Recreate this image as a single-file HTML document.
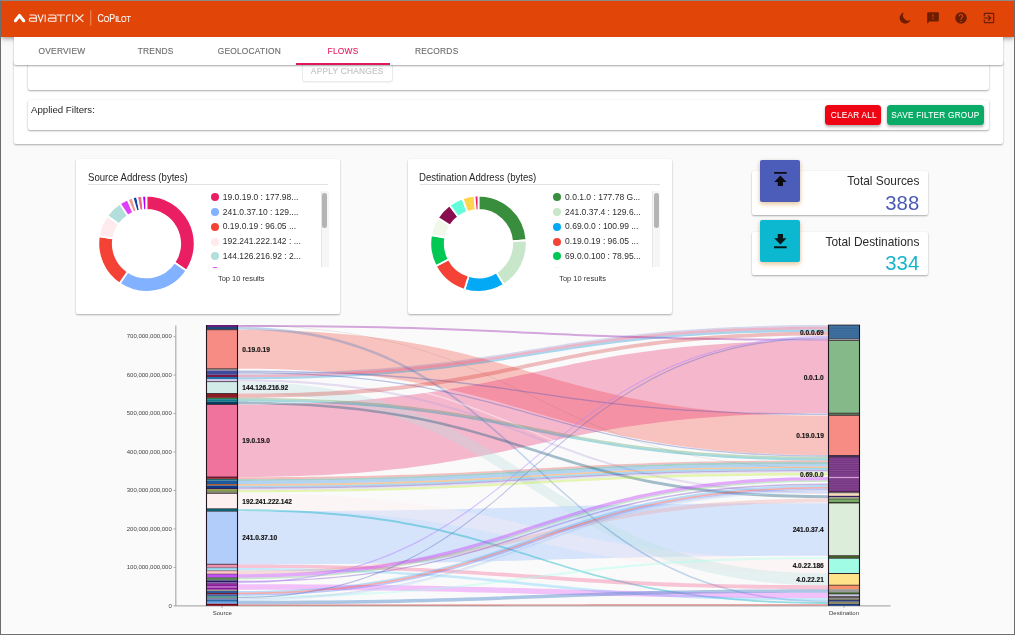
<!DOCTYPE html>
<html><head><meta charset="utf-8"><title>CoPilot</title>
<style>
*{box-sizing:border-box;margin:0;padding:0}
html,body{width:1015px;height:635px;overflow:hidden;background:#fafafa;font-family:"Liberation Sans",sans-serif;}
#root{position:absolute;left:0;top:0;width:1015px;height:635px;will-change:transform}
#frame{position:absolute;left:0;top:0;width:1015px;height:635px;border:1px solid #6e6e6e;border-top-color:#8a8a8a;pointer-events:none;z-index:50}
#frame:after{content:"";position:absolute;left:0;right:0;bottom:0;height:1px;background:#fff}
#hdr{position:absolute;left:1px;top:1px;width:1013px;height:36px;background:#e24508;z-index:3;box-shadow:0 2px 4px -1px rgba(0,0,0,.3),0 3px 5px rgba(0,0,0,.14)}
#tabs{position:absolute;left:14px;top:37px;width:988.8px;height:28px;background:#fff;border-radius:0 0 2px 2px;box-shadow:0 1px 2px rgba(0,0,0,.35);z-index:4}
.tab{-webkit-text-stroke:.14px;position:absolute;top:0;height:28px;width:93.7px;text-align:center;font-size:8.4px;line-height:28.5px;color:#6f6f6f;letter-spacing:.22px}
.tab.on{color:#e91e63}
#ink{position:absolute;left:282px;top:26.4px;width:93.7px;height:1.7px;background:#e0185c}
#panel{position:absolute;left:14px;top:60px;width:988.8px;height:84px;background:#fff;border-radius:2px;box-shadow:0 1px 2px rgba(0,0,0,.32);z-index:1}
.icard{position:absolute;left:14px;width:960.8px;background:#fff;border-radius:2px;box-shadow:0 1px 2px rgba(0,0,0,.32), 0 0 2px rgba(0,0,0,.08)}
#apply{-webkit-text-stroke:.12px;position:absolute;left:273.5px;top:0;width:91.5px;height:22px;border:1px solid #ebebeb;border-top:none;border-radius:0 0 3px 3px;box-shadow:0 1px 1px rgba(0,0,0,.05);color:#c3c3c3;font-size:8.4px;letter-spacing:.22px;text-align:center;line-height:23.2px}
.btn{-webkit-text-stroke:.07px;position:absolute;top:104.8px;height:20px;border-radius:3.5px;color:#fff;font-size:8.8px;letter-spacing:.3px;text-align:center;line-height:20.5px;white-space:nowrap;box-shadow:0 1.5px 3px rgba(0,0,0,.3);z-index:3}
.card{position:absolute;background:#fff;border-radius:2px;box-shadow:0 1px 2px rgba(0,0,0,.3),0 0 2px rgba(0,0,0,.06)}
.ctitle{position:absolute;left:11.7px;top:13.1px;font-size:10.1px;color:#262626;white-space:nowrap;transform:scaleX(.95);transform-origin:0 50%}
.cdiv{position:absolute;left:12px;right:12px;top:25.5px;height:1px;background:#e2e2e2}
.leg{position:absolute;left:134px;top:32px;width:119px;height:77.2px;overflow:hidden}
.li{position:absolute;left:0;height:14.7px;white-space:nowrap;font-size:8.5px;color:#2e2e2e;line-height:14.7px}
.dot{position:absolute;left:1.4px;top:3.3px;width:8px;height:8px;border-radius:50%}
.li span{position:absolute;left:13.2px;top:0}
.sb{position:absolute;right:0;top:0;width:8px;height:76px;background:#f6f6f6;border-left:1px solid #e6e6e6}
.sb i{position:absolute;left:0.9px;top:1.8px;width:4.6px;height:35.5px;border-radius:2.3px;background:#b4b4b4}
.top10{position:absolute;left:141.6px;top:115.3px;font-size:7.5px;color:#333}
.stat{position:absolute;left:751.6px;width:176.7px;height:43.4px;background:#fff;border-radius:2px;box-shadow:0 1px 2px rgba(0,0,0,.32),0 0 2px rgba(0,0,0,.06)}
.sbox svg{position:absolute;left:.2px;top:.3px}
.sbox{position:absolute;left:8.9px;top:-11.9px;width:39.1px;height:42.2px;border-radius:2px;box-shadow:0 3px 5px rgba(255,152,0,.25),0 1px 4px rgba(0,0,0,.18)}
.slab{position:absolute;right:8.9px;top:2.5px;font-size:11.9px;color:#2b2b2b;white-space:nowrap}
.sval{position:absolute;right:9.1px;top:20.3px;font-size:20.3px;white-space:nowrap}
.btn span{display:inline-block;transform:scaleX(.93);transform-origin:50% 50%}</style></head><body><div id="root">
<div id="hdr"><svg style="position:absolute;left:0;top:0" width="140" height="36" viewBox="1 1 140 36"><path d="M15.4,20.7L19.5,15.5L23.7,20.7" fill="none" stroke="#fff" stroke-width="3.1" stroke-linecap="round" stroke-linejoin="round"/><g fill="none" stroke="#fff" stroke-opacity=".92" stroke-width="1.08"><path d="M29.6,15H34.4Q36.4,15 36.4,17V21.3H30.9Q29.3,21.3 29.3,19.7Q29.3,18.1 30.9,18.1H36.4"/><path d="M37.9,14.5L40.6,21.4L43.3,14.5"/><path d="M45.2,14.4V21.9"/><path d="M48.6,15H53.9Q55.9,15 55.9,17V21.3H49.7Q48.1,21.3 48.1,19.7Q48.1,18.1 49.7,18.1H55.9"/><path d="M56.6,15H65M60.8,15V21.9"/><path d="M66.7,21.9V17Q66.7,15 68.8,15H70.9"/><path d="M72.7,14.4V21.9"/><path d="M75.3,14.5L83.4,21.9M83.4,14.5L75.3,21.9"/></g><path d="M90.8,10.2V25.6" stroke="#f39a73" stroke-width="0.9"/><text transform="translate(97.5,22) scale(.855,1)" fill="#fff" fill-opacity=".96" stroke="#fff" stroke-width=".2" stroke-opacity=".8" font-family="Liberation Sans, sans-serif" font-size="10.2"><tspan>C</tspan><tspan font-size="8.3">O</tspan><tspan>P</tspan><tspan font-size="8.3">ILOT</tspan></text></svg>
<svg style="position:absolute;left:897px;top:9.8px" width="14" height="14" viewBox="0 0 24 24"><path d="M10.06,2.61A9.7,9.7 0 1 0 21.58,15.41A8.9,8.9 0 0 1 10.06,2.61Z" fill="#6d1e00"/></svg>
<svg style="position:absolute;left:925px;top:9.8px" width="14" height="14" viewBox="0 0 24 24"><path d="M13,10H11V6H13M13,14H11V12H13M20,2H4A2,2 0 0,0 2,4V22L6,18H20A2,2 0 0,0 22,16V4C22,2.89 21.1,2 20,2Z" fill="#6d1e00"/></svg>
<svg style="position:absolute;left:953px;top:9.8px" width="14" height="14" viewBox="0 0 24 24"><path d="M15.07,11.25L14.17,12.17C13.45,12.89 13,13.5 13,15H11V14.5C11,13.39 11.45,12.39 12.17,11.67L13.41,10.41C13.78,10.05 14,9.55 14,9C14,7.89 13.1,7 12,7A2,2 0 0,0 10,9H8A4,4 0 0,1 12,5A4,4 0 0,1 16,9C16,9.88 15.64,10.67 15.07,11.25M13,19H11V17H13M12,2A10,10 0 0,0 2,12A10,10 0 0,0 12,22A10,10 0 0,0 22,12C22,6.47 17.5,2 12,2Z" fill="#6d1e00"/></svg>
<svg style="position:absolute;left:981.3px;top:9.8px" width="14" height="14" viewBox="0 0 24 24"><path d="M19,3H5C3.89,3 3,3.89 3,5V9H5V5H19V19H5V15H3V19A2,2 0 0,0 5,21H19A2,2 0 0,0 21,19V5C21,3.89 20.1,3 19,3M10.08,15.58L11.5,17L16.5,12L11.5,7L10.08,8.41L12.67,11H3V13H12.67L10.08,15.58Z" fill="#6d1e00"/></svg>
</div>
<div id="tabs">
<div class="tab" style="left:1.1px">OVERVIEW</div>
<div class="tab" style="left:94.8px">TRENDS</div>
<div class="tab" style="left:188.5px">GEOLOCATION</div>
<div class="tab on" style="left:282.2px">FLOWS</div>
<div class="tab" style="left:375.9px">RECORDS</div>
<div id="ink"></div>
</div>
<div id="panel">
<div class="icard" style="top:0;height:30.3px"><div id="apply">APPLY CHANGES</div></div>
<div class="icard" style="top:39.6px;height:30.5px"><div style="position:absolute;left:2.5px;top:4.5px;font-size:9.8px;color:#1f1f1f;transform:scaleX(.985);transform-origin:0 50%;white-space:nowrap">Applied Filters:</div></div>
</div>
<div class="btn" style="left:825.4px;width:55.9px;background:#ee0413"><span>CLEAR ALL</span></div>
<div class="btn" style="left:887px;width:97.2px;background:#0aab67"><span style="margin-left:-3px;margin-right:-3px">SAVE FILTER GROUP</span></div>

<div class="card" style="left:76.3px;top:158.9px;width:263.8px;height:155.2px">
<div class="ctitle">Source Address (bytes)</div><div class="cdiv"></div>
<svg style="position:absolute;left:0;top:0" width="150" height="155" viewBox="0 0 150 155"><path d="M70.50,36.55A48.15,48.15 0 0 1 110.42,111.63L98.44,103.54A33.7,33.7 0 0 0 70.50,51.00Z" fill="#e91e63" stroke="#fff" stroke-width="1.8" stroke-linejoin="miter"/><path d="M110.42,111.63A48.15,48.15 0 0 1 43.57,124.62L51.66,112.64A33.7,33.7 0 0 0 98.44,103.54Z" fill="#82b1ff" stroke="#fff" stroke-width="1.8" stroke-linejoin="miter"/><path d="M43.57,124.62A48.15,48.15 0 0 1 22.94,77.17L37.21,79.43A33.7,33.7 0 0 0 51.66,112.64Z" fill="#f44336" stroke="#fff" stroke-width="1.8" stroke-linejoin="miter"/><path d="M22.94,77.17A48.15,48.15 0 0 1 31.30,56.74L43.06,65.13A33.7,33.7 0 0 0 37.21,79.43Z" fill="#ffebee" stroke="#fff" stroke-width="1.8" stroke-linejoin="miter"/><path d="M31.30,56.74A48.15,48.15 0 0 1 43.85,44.59L51.85,56.63A33.7,33.7 0 0 0 43.06,65.13Z" fill="#b2dfdb" stroke="#fff" stroke-width="1.8" stroke-linejoin="miter"/><path d="M43.85,44.59A48.15,48.15 0 0 1 51.69,40.38L57.33,53.68A33.7,33.7 0 0 0 51.85,56.63Z" fill="#e040fb" stroke="#fff" stroke-width="1.8" stroke-linejoin="miter"/><path d="M51.69,40.38A48.15,48.15 0 0 1 56.58,38.61L60.76,52.44A33.7,33.7 0 0 0 57.33,53.68Z" fill="#ef9a9a" stroke="#fff" stroke-width="1.8" stroke-linejoin="miter"/><path d="M56.58,38.61A48.15,48.15 0 0 1 61.07,37.48L63.90,51.65A33.7,33.7 0 0 0 60.76,52.44Z" fill="#0d47a1" stroke="#fff" stroke-width="1.8" stroke-linejoin="miter"/><path d="M61.07,37.48A48.15,48.15 0 0 1 66.14,36.75L67.45,51.14A33.7,33.7 0 0 0 63.90,51.65Z" fill="#f06292" stroke="#fff" stroke-width="1.8" stroke-linejoin="miter"/><path d="M66.14,36.75A48.15,48.15 0 0 1 70.16,36.55L70.26,51.00A33.7,33.7 0 0 0 67.45,51.14Z" fill="#aa00ff" stroke="#fff" stroke-width="1.8" stroke-linejoin="miter"/></svg><div class="leg" style="left:133.3px;width:119px"><div class="li" style="top:-0.90px"><i class="dot" style="background:#e91e63"></i><span>19.0.19.0 : 177.98...</span></div><div class="li" style="top:13.84px"><i class="dot" style="background:#82b1ff"></i><span>241.0.37.10 : 129....</span></div><div class="li" style="top:28.58px"><i class="dot" style="background:#f44336"></i><span>0.19.0.19 : 96.05 ...</span></div><div class="li" style="top:43.32px"><i class="dot" style="background:#ffebee"></i><span>192.241.222.142 : ...</span></div><div class="li" style="top:58.06px"><i class="dot" style="background:#b2dfdb"></i><span>144.126.216.92 : 2...</span></div><div class="li" style="top:72.80px"><i class="dot" style="background:#e040fb"></i></div><div class="sb"><i></i></div></div>
<div class="top10">Top 10 results</div>
</div>
<div class="card" style="left:407.8px;top:158.9px;width:264.3px;height:155.2px">
<div class="ctitle">Destination Address (bytes)</div><div class="cdiv"></div>
<svg style="position:absolute;left:0;top:0" width="150" height="155" viewBox="0 0 150 155"><path d="M70.50,36.55A48.15,48.15 0 0 1 118.53,81.26L104.11,82.29A33.7,33.7 0 0 0 70.50,51.00Z" fill="#388e3c" stroke="#fff" stroke-width="1.8" stroke-linejoin="miter"/><path d="M118.53,81.26A48.15,48.15 0 0 1 95.80,125.67L88.21,113.37A33.7,33.7 0 0 0 104.11,82.29Z" fill="#c8e6c9" stroke="#fff" stroke-width="1.8" stroke-linejoin="miter"/><path d="M95.80,125.67A48.15,48.15 0 0 1 56.42,130.75L60.65,116.93A33.7,33.7 0 0 0 88.21,113.37Z" fill="#03a9f4" stroke="#fff" stroke-width="1.8" stroke-linejoin="miter"/><path d="M56.42,130.75A48.15,48.15 0 0 1 27.79,106.93L40.61,100.26A33.7,33.7 0 0 0 60.65,116.93Z" fill="#f44336" stroke="#fff" stroke-width="1.8" stroke-linejoin="miter"/><path d="M27.79,106.93A48.15,48.15 0 0 1 23.13,76.09L37.34,78.67A33.7,33.7 0 0 0 40.61,100.26Z" fill="#00c853" stroke="#fff" stroke-width="1.8" stroke-linejoin="miter"/><path d="M23.13,76.09A48.15,48.15 0 0 1 29.94,58.76L42.11,66.54A33.7,33.7 0 0 0 37.34,78.67Z" fill="#f1f8e9" stroke="#fff" stroke-width="1.8" stroke-linejoin="miter"/><path d="M29.94,58.76A48.15,48.15 0 0 1 41.52,46.25L50.22,57.79A33.7,33.7 0 0 0 42.11,66.54Z" fill="#880e4f" stroke="#fff" stroke-width="1.8" stroke-linejoin="miter"/><path d="M41.52,46.25A48.15,48.15 0 0 1 54.51,39.28L59.31,52.91A33.7,33.7 0 0 0 50.22,57.79Z" fill="#64ffda" stroke="#fff" stroke-width="1.8" stroke-linejoin="miter"/><path d="M54.51,39.28A48.15,48.15 0 0 1 66.55,36.71L67.74,51.11A33.7,33.7 0 0 0 59.31,52.91Z" fill="#ffd54f" stroke="#fff" stroke-width="1.8" stroke-linejoin="miter"/><path d="M66.55,36.71A48.15,48.15 0 0 1 70.42,36.55L70.44,51.00A33.7,33.7 0 0 0 67.74,51.11Z" fill="#e91e63" stroke="#fff" stroke-width="1.8" stroke-linejoin="miter"/></svg><div class="leg" style="left:144.10000000000002px;width:108.2px"><div class="li" style="top:-0.90px"><i class="dot" style="background:#388e3c"></i><span>0.0.1.0 : 177.78 G...</span></div><div class="li" style="top:13.84px"><i class="dot" style="background:#c8e6c9"></i><span>241.0.37.4 : 129.6...</span></div><div class="li" style="top:28.58px"><i class="dot" style="background:#03a9f4"></i><span>0.69.0.0 : 100.99 ...</span></div><div class="li" style="top:43.32px"><i class="dot" style="background:#f44336"></i><span>0.19.0.19 : 96.05 ...</span></div><div class="li" style="top:58.06px"><i class="dot" style="background:#00c853"></i><span>69.0.0.100 : 78.95...</span></div><div class="li" style="top:72.80px"><i class="dot" style="background:#f1f8e9"></i></div><div class="sb"><i></i></div></div>
<div class="top10" style="left:151.4px">Top 10 results</div>
</div>

<div class="stat" style="top:171.4px">
<div class="sbox" style="background:#4c5db9"><svg width="38.7" height="41.4" viewBox="0 0 38.7 41.4"><path d="M13.1,11.9h12.6v1.9h-12.6z M19.4,15.6l6.2,6.3h-3.6v4.2h-5.2v-4.2h-3.6z" fill="#0b0b14"/></svg></div>
<div class="slab">Total Sources</div><div class="sval" style="color:#4a5bb6">388</div></div>
<div class="stat" style="top:232.1px">
<div class="sbox" style="background:#0cb8cf"><svg width="38.7" height="41.4" viewBox="0 0 38.7 41.4"><path d="M13.1,25.3h12.6v1.9h-12.6z M19.4,23.6l6.2,-6.3h-3.6v-4.4h-5.2v4.4h-3.6z" fill="#07181b"/></svg></div>
<div class="slab">Total Destinations</div><div class="sval" style="color:#16b4ca">334</div></div>

<svg style="position:absolute;left:0;top:0" width="1015" height="635" viewBox="0 0 1015 635" font-family="Liberation Sans, sans-serif"><path d="M175.8,325.5V606.2M175.3,605.9H890.5" stroke="#b0b0b0" stroke-width="1.25" fill="none"/><path d="M173.5,605.80H175.8" stroke="#999" stroke-width="0.8"/><text x="171.8" y="607.60" font-size="6" fill="#444" text-anchor="end">0</text><path d="M173.5,567.35H175.8" stroke="#999" stroke-width="0.8"/><text x="171.8" y="569.15" font-size="6" fill="#444" text-anchor="end">100,000,000,000</text><path d="M173.5,528.90H175.8" stroke="#999" stroke-width="0.8"/><text x="171.8" y="530.70" font-size="6" fill="#444" text-anchor="end">200,000,000,000</text><path d="M173.5,490.45H175.8" stroke="#999" stroke-width="0.8"/><text x="171.8" y="492.25" font-size="6" fill="#444" text-anchor="end">300,000,000,000</text><path d="M173.5,452.00H175.8" stroke="#999" stroke-width="0.8"/><text x="171.8" y="453.80" font-size="6" fill="#444" text-anchor="end">400,000,000,000</text><path d="M173.5,413.55H175.8" stroke="#999" stroke-width="0.8"/><text x="171.8" y="415.35" font-size="6" fill="#444" text-anchor="end">500,000,000,000</text><path d="M173.5,375.10H175.8" stroke="#999" stroke-width="0.8"/><text x="171.8" y="376.90" font-size="6" fill="#444" text-anchor="end">600,000,000,000</text><path d="M173.5,336.65H175.8" stroke="#999" stroke-width="0.8"/><text x="171.8" y="338.45" font-size="6" fill="#444" text-anchor="end">700,000,000,000</text><path d="M222,606V608M844,606V608" stroke="#999" stroke-width="0.8"/><text x="222.3" y="615.2" font-size="6" fill="#3c3c3c" text-anchor="middle">Source</text><text x="844" y="615.2" font-size="6" fill="#3c3c3c" text-anchor="middle">Destination</text><g stroke="none"><path d="M238.0,329.70C533.0,329.70 533.0,415.60 828.0,415.60V455.30C533.0,455.30 533.0,368.80 238.0,368.80Z" fill="#f44336" fill-opacity="0.3"/><path d="M238.0,404.50C533.0,404.50 533.0,340.60 828.0,340.60V413.20C533.0,413.20 533.0,477.10 238.0,477.10Z" fill="#e91e63" fill-opacity="0.3"/><path d="M238.0,511.20C533.0,511.20 533.0,503.20 828.0,503.20V555.80C533.0,555.80 533.0,564.40 238.0,564.40Z" fill="#82b1ff" fill-opacity="0.3"/><path d="M238.0,493.30C533.0,493.30 533.0,559.00 828.0,559.00V573.40C533.0,573.40 533.0,509.20 238.0,509.20Z" fill="#ffebee" fill-opacity="0.32"/><path d="M238.0,381.60C533.0,381.60 533.0,573.40 828.0,573.40V585.30C533.0,585.30 533.0,393.50 238.0,393.50Z" fill="#b2dfdb" fill-opacity="0.3"/><path d="M238.0,325.00C533.0,325.00 533.0,338.70 828.0,338.70V340.80C533.0,340.80 533.0,327.10 238.0,327.10Z" fill="#9c27b0" fill-opacity="0.4"/><path d="M238.0,327.00C533.0,327.00 533.0,600.60 828.0,600.60V602.20C533.0,602.20 533.0,329.60 238.0,329.60Z" fill="#1565c0" fill-opacity="0.25"/><path d="M238.0,369.00C533.0,369.00 533.0,493.80 828.0,493.80V495.20C533.0,495.20 533.0,370.40 238.0,370.40Z" fill="#ffffff" fill-opacity="0.42"/><path d="M238.0,373.30C533.0,373.30 533.0,325.10 828.0,325.10V326.70C533.0,326.70 533.0,374.80 238.0,374.80Z" fill="#3f51b5" fill-opacity="0.2"/><path d="M238.0,370.50C533.0,370.50 533.0,413.60 828.0,413.60V415.00C533.0,415.00 533.0,371.90 238.0,371.90Z" fill="#3f51b5" fill-opacity="0.34"/><path d="M238.0,371.90C533.0,371.90 533.0,455.30 828.0,455.30V456.70C533.0,456.70 533.0,373.30 238.0,373.30Z" fill="#3f51b5" fill-opacity="0.34"/><path d="M238.0,325.00C533.0,325.00 533.0,467.80 828.0,467.80V468.40C533.0,468.40 533.0,325.60 238.0,325.60Z" fill="#555555" fill-opacity="0.14"/><path d="M238.0,374.80C533.0,374.80 533.0,326.70 828.0,326.70V329.50C533.0,329.50 533.0,377.20 238.0,377.20Z" fill="#c2185b" fill-opacity="0.3"/><path d="M238.0,377.20C533.0,377.20 533.0,329.50 828.0,329.50V331.80C533.0,331.80 533.0,379.30 238.0,379.30Z" fill="#0288d1" fill-opacity="0.33"/><path d="M238.0,379.30C533.0,379.30 533.0,491.60 828.0,491.60V493.80C533.0,493.80 533.0,381.50 238.0,381.50Z" fill="#b39ddb" fill-opacity="0.3"/><path d="M238.0,393.60C533.0,393.60 533.0,331.80 828.0,331.80V335.60C533.0,335.60 533.0,397.70 238.0,397.70Z" fill="#d32f2f" fill-opacity="0.3"/><path d="M238.0,397.70C533.0,397.70 533.0,456.80 828.0,456.80V458.30C533.0,458.30 533.0,399.20 238.0,399.20Z" fill="#388e3c" fill-opacity="0.3"/><path d="M238.0,399.20C533.0,399.20 533.0,458.30 828.0,458.30V460.50C533.0,460.50 533.0,401.60 238.0,401.60Z" fill="#0097a7" fill-opacity="0.35"/><path d="M238.0,401.60C533.0,401.60 533.0,495.20 828.0,495.20V498.20C533.0,498.20 533.0,404.30 238.0,404.30Z" fill="#14567a" fill-opacity="0.38"/><path d="M238.0,477.20C533.0,477.20 533.0,460.40 828.0,460.40V461.90C533.0,461.90 533.0,479.30 238.0,479.30Z" fill="#e53935" fill-opacity="0.3"/><path d="M238.0,479.30C533.0,479.30 533.0,461.90 828.0,461.90V463.90C533.0,463.90 533.0,480.90 238.0,480.90Z" fill="#00796b" fill-opacity="0.33"/><path d="M238.0,480.90C533.0,480.90 533.0,463.90 828.0,463.90V466.50C533.0,466.50 533.0,483.90 238.0,483.90Z" fill="#1e88e5" fill-opacity="0.33"/><path d="M238.0,483.90C533.0,483.90 533.0,466.50 828.0,466.50V468.00C533.0,468.00 533.0,485.80 238.0,485.80Z" fill="#ef6c00" fill-opacity="0.35"/><path d="M238.0,485.80C533.0,485.80 533.0,468.00 828.0,468.00V470.00C533.0,470.00 533.0,487.20 238.0,487.20Z" fill="#039be5" fill-opacity="0.33"/><path d="M238.0,487.20C533.0,487.20 533.0,470.00 828.0,470.00V471.20C533.0,471.20 533.0,488.70 238.0,488.70Z" fill="#5e35b1" fill-opacity="0.38"/><path d="M238.0,488.70C533.0,488.70 533.0,471.20 828.0,471.20V472.60C533.0,472.60 533.0,490.20 238.0,490.20Z" fill="#b39ddb" fill-opacity="0.25"/><path d="M238.0,490.20C533.0,490.20 533.0,472.80 828.0,472.80V475.40C533.0,475.40 533.0,492.30 238.0,492.30Z" fill="#aeea00" fill-opacity="0.3"/><path d="M238.0,509.30C533.0,509.30 533.0,602.10 828.0,602.10V603.90C533.0,603.90 533.0,511.10 238.0,511.10Z" fill="#00acc1" fill-opacity="0.4"/><path d="M238.0,564.40C533.0,564.40 533.0,585.30 828.0,585.30V589.20C533.0,589.20 533.0,568.00 238.0,568.00Z" fill="#f06292" fill-opacity="0.36"/><path d="M238.0,568.00C533.0,568.00 533.0,598.10 828.0,598.10V600.80C533.0,600.80 533.0,570.60 238.0,570.60Z" fill="#4fc3f7" fill-opacity="0.3"/><path d="M238.0,570.60C533.0,570.60 533.0,498.40 828.0,498.40V502.40C533.0,502.40 533.0,574.20 238.0,574.20Z" fill="#ef9a9a" fill-opacity="0.32"/><path d="M238.0,574.20C533.0,574.20 533.0,476.90 828.0,476.90V480.30C533.0,480.30 533.0,577.70 238.0,577.70Z" fill="#c040fb" fill-opacity="0.42"/><path d="M238.0,577.70C533.0,577.70 533.0,480.30 828.0,480.30V481.80C533.0,481.80 533.0,579.20 238.0,579.20Z" fill="#66bb6a" fill-opacity="0.33"/><path d="M238.0,580.80C533.0,580.80 533.0,483.40 828.0,483.40V484.90C533.0,484.90 533.0,582.00 238.0,582.00Z" fill="#7e57c2" fill-opacity="0.42"/><path d="M238.0,581.80C533.0,581.80 533.0,336.10 828.0,336.10V337.50C533.0,337.50 533.0,583.20 238.0,583.20Z" fill="#b388ff" fill-opacity="0.5"/><path d="M238.0,584.20C533.0,584.20 533.0,592.80 828.0,592.80V598.10C533.0,598.10 533.0,589.70 238.0,589.70Z" fill="#e040fb" fill-opacity="0.3"/><path d="M238.0,591.00C533.0,591.00 533.0,485.00 828.0,485.00V487.00C533.0,487.00 533.0,592.50 238.0,592.50Z" fill="#64b5f6" fill-opacity="0.45"/><path d="M238.0,592.50C533.0,592.50 533.0,487.00 828.0,487.00V488.60C533.0,488.60 533.0,594.30 238.0,594.30Z" fill="#e53935" fill-opacity="0.4"/><path d="M238.0,594.30C533.0,594.30 533.0,488.60 828.0,488.60V490.00C533.0,490.00 533.0,595.70 238.0,595.70Z" fill="#5c7cfa" fill-opacity="0.4"/><path d="M238.0,595.70C533.0,595.70 533.0,556.90 828.0,556.90V559.10C533.0,559.10 533.0,597.70 238.0,597.70Z" fill="#a7ffeb" fill-opacity="0.4"/><path d="M238.0,596.90C533.0,596.90 533.0,337.50 828.0,337.50V338.70C533.0,338.70 533.0,598.10 238.0,598.10Z" fill="#5c6bc0" fill-opacity="0.42"/><path d="M238.0,598.20C533.0,598.20 533.0,490.00 828.0,490.00V491.20C533.0,491.20 533.0,599.20 238.0,599.20Z" fill="#9fa8da" fill-opacity="0.35"/><path d="M238.0,599.20C533.0,599.20 533.0,491.20 828.0,491.20V492.40C533.0,492.40 533.0,600.80 238.0,600.80Z" fill="#bbdefb" fill-opacity="0.45"/><path d="M238.0,600.80C533.0,600.80 533.0,589.20 828.0,589.20V592.80C533.0,592.80 533.0,604.30 238.0,604.30Z" fill="#5c8fd0" fill-opacity="0.5"/><path d="M238.0,604.30C533.0,604.30 533.0,603.90 828.0,603.90V605.60C533.0,605.60 533.0,605.70 238.0,605.70Z" fill="#d32f2f" fill-opacity="0.42"/></g><rect x="206.0" y="325.00" width="32.0" height="2.00" fill="#6a1b7a"/><rect x="206.0" y="327.00" width="32.0" height="2.70" fill="#1a4a7a"/><rect x="206.0" y="329.70" width="32.0" height="39.10" fill="#f78c84"/><rect x="206.0" y="368.80" width="32.0" height="1.70" fill="#9e9e9e"/><rect x="206.0" y="370.50" width="32.0" height="4.30" fill="#3f4a9a"/><rect x="206.0" y="374.80" width="32.0" height="2.20" fill="#7a1a4a"/><rect x="206.0" y="377.00" width="32.0" height="2.40" fill="#1e70a8"/><rect x="206.0" y="379.40" width="32.0" height="2.20" fill="#d8c8f0"/><rect x="206.0" y="381.60" width="32.0" height="11.90" fill="#d3ebe8"/><rect x="206.0" y="393.50" width="32.0" height="4.40" fill="#8a1c24"/><rect x="206.0" y="397.90" width="32.0" height="1.30" fill="#2a7a4a"/><rect x="206.0" y="399.20" width="32.0" height="2.50" fill="#0a7a8a"/><rect x="206.0" y="401.70" width="32.0" height="2.80" fill="#0c3a5e"/><rect x="206.0" y="404.50" width="32.0" height="72.50" fill="#f0739e"/><rect x="206.0" y="477.00" width="32.0" height="1.90" fill="#a02030"/><rect x="206.0" y="478.90" width="32.0" height="1.70" fill="#1a6a6a"/><rect x="206.0" y="480.60" width="32.0" height="3.40" fill="#1a5aa0"/><rect x="206.0" y="484.00" width="32.0" height="1.60" fill="#b05a30"/><rect x="206.0" y="485.60" width="32.0" height="2.40" fill="#0a3a8a"/><rect x="206.0" y="488.00" width="32.0" height="1.30" fill="#3a1a5a"/><rect x="206.0" y="489.30" width="32.0" height="1.60" fill="#7a9a30"/><rect x="206.0" y="490.90" width="32.0" height="2.50" fill="#8a8a70"/><rect x="206.0" y="493.40" width="32.0" height="15.40" fill="#fdeff0"/><rect x="206.0" y="508.80" width="32.0" height="2.40" fill="#0a7a8a"/><rect x="206.0" y="511.20" width="32.0" height="53.10" fill="#b3cdfb"/><rect x="206.0" y="564.30" width="32.0" height="3.40" fill="#f48fb1"/><rect x="206.0" y="567.70" width="32.0" height="3.00" fill="#9adcf0"/><rect x="206.0" y="570.70" width="32.0" height="3.40" fill="#fbc4c4"/><rect x="206.0" y="574.10" width="32.0" height="3.60" fill="#c050f8"/><rect x="206.0" y="577.70" width="32.0" height="2.70" fill="#5a8a5a"/><rect x="206.0" y="580.40" width="32.0" height="1.80" fill="#2a1a6a"/><rect x="206.0" y="582.20" width="32.0" height="1.90" fill="#7a4a9a"/><rect x="206.0" y="584.10" width="32.0" height="2.20" fill="#8a1a9a"/><rect x="206.0" y="586.30" width="32.0" height="1.30" fill="#a848b8"/><rect x="206.0" y="587.60" width="32.0" height="2.20" fill="#8a1a9a"/><rect x="206.0" y="589.80" width="32.0" height="1.20" fill="#a09a8a"/><rect x="206.0" y="591.00" width="32.0" height="2.00" fill="#2a5a9a"/><rect x="206.0" y="593.00" width="32.0" height="1.50" fill="#7a1a2a"/><rect x="206.0" y="594.50" width="32.0" height="1.40" fill="#2a4aaa"/><rect x="206.0" y="595.90" width="32.0" height="2.40" fill="#5a9a8a"/><rect x="206.0" y="598.30" width="32.0" height="1.20" fill="#6a5a9a"/><rect x="206.0" y="599.50" width="32.0" height="2.30" fill="#2a6aaa"/><rect x="206.0" y="601.80" width="32.0" height="1.90" fill="#6aaaf0"/><rect x="206.0" y="603.70" width="32.0" height="2.10" fill="#7a0a1a"/><rect x="206.5" y="329.70" width="31.0" height="39.10" fill="none" stroke="#201018" stroke-opacity=".7" stroke-width="1"/><rect x="206.5" y="381.60" width="31.0" height="11.90" fill="none" stroke="#201018" stroke-opacity=".7" stroke-width="1"/><rect x="206.5" y="404.50" width="31.0" height="72.50" fill="none" stroke="#201018" stroke-opacity=".7" stroke-width="1"/><rect x="206.5" y="493.40" width="31.0" height="15.40" fill="none" stroke="#201018" stroke-opacity=".7" stroke-width="1"/><rect x="206.5" y="511.20" width="31.0" height="53.10" fill="none" stroke="#201018" stroke-opacity=".7" stroke-width="1"/><path d="M206.5,325V605.8M237.5,325V605.8" stroke="#1a0f1a" stroke-opacity=".85" stroke-width="1.1" fill="none"/><rect x="828.0" y="325.00" width="32.0" height="13.90" fill="#3f6f9f"/><rect x="828.0" y="338.90" width="32.0" height="1.60" fill="#c8d0d0"/><rect x="828.0" y="340.50" width="32.0" height="72.70" fill="#86b98a"/><rect x="828.0" y="413.20" width="32.0" height="2.20" fill="#5a7a5a"/><rect x="828.0" y="415.40" width="32.0" height="40.10" fill="#f78c84"/><rect x="828.0" y="455.50" width="32.0" height="1.20" fill="#2a3a8a"/><rect x="828.0" y="456.70" width="32.0" height="35.30" fill="#763582"/><rect x="828.0" y="492.00" width="32.0" height="1.60" fill="#8a8a8a"/><rect x="828.0" y="493.60" width="32.0" height="2.20" fill="#fbdcb0"/><rect x="828.0" y="495.80" width="32.0" height="1.50" fill="#3a1a6a"/><rect x="828.0" y="497.30" width="32.0" height="1.60" fill="#8a9a6a"/><rect x="828.0" y="498.90" width="32.0" height="0.90" fill="#3a5a2a"/><rect x="828.0" y="499.80" width="32.0" height="2.20" fill="#7aaa6a"/><rect x="828.0" y="502.00" width="32.0" height="1.00" fill="#3a5a2a"/><rect x="828.0" y="503.00" width="32.0" height="52.70" fill="#dcedda"/><rect x="828.0" y="555.70" width="32.0" height="2.60" fill="#4a6a2a"/><rect x="828.0" y="558.30" width="32.0" height="15.20" fill="#a0fce4"/><rect x="828.0" y="573.50" width="32.0" height="11.70" fill="#fee38a"/><rect x="828.0" y="585.20" width="32.0" height="3.90" fill="#f8906a"/><rect x="828.0" y="589.10" width="32.0" height="3.20" fill="#9a9a9a"/><rect x="828.0" y="592.30" width="32.0" height="2.30" fill="#3a5a2a"/><rect x="828.0" y="594.60" width="32.0" height="1.20" fill="#c0b0e8"/><rect x="828.0" y="596.00" width="32.0" height="2.60" fill="#5a5a5a"/><rect x="828.0" y="598.60" width="32.0" height="1.50" fill="#7a7a6a"/><rect x="828.0" y="600.10" width="32.0" height="1.60" fill="#1a2a6a"/><rect x="828.0" y="601.70" width="32.0" height="2.30" fill="#8a8a6a"/><rect x="828.0" y="604.00" width="32.0" height="1.80" fill="#1a3a7a"/><rect x="828.5" y="325.00" width="31.0" height="13.90" fill="none" stroke="#201018" stroke-opacity=".7" stroke-width="1"/><rect x="828.5" y="340.50" width="31.0" height="72.70" fill="none" stroke="#201018" stroke-opacity=".7" stroke-width="1"/><rect x="828.5" y="415.40" width="31.0" height="40.10" fill="none" stroke="#201018" stroke-opacity=".7" stroke-width="1"/><rect x="828.5" y="456.70" width="31.0" height="35.30" fill="none" stroke="#201018" stroke-opacity=".7" stroke-width="1"/><rect x="828.5" y="503.00" width="31.0" height="52.70" fill="none" stroke="#201018" stroke-opacity=".7" stroke-width="1"/><rect x="828.5" y="558.30" width="31.0" height="15.20" fill="none" stroke="#201018" stroke-opacity=".7" stroke-width="1"/><rect x="828.5" y="573.50" width="31.0" height="11.70" fill="none" stroke="#201018" stroke-opacity=".7" stroke-width="1"/><path d="M828.5,325V605.8M859.5,325V605.8" stroke="#1a0f1a" stroke-opacity=".85" stroke-width="1.1" fill="none"/><path d="M207,567.7H237" stroke="#301020" stroke-opacity=".55" stroke-width=".8"/><path d="M207,570.7H237" stroke="#301020" stroke-opacity=".55" stroke-width=".8"/><path d="M207,574.1H237" stroke="#301020" stroke-opacity=".55" stroke-width=".8"/><path d="M207,577.7H237" stroke="#301020" stroke-opacity=".55" stroke-width=".8"/><path d="M829,459.0H859" stroke="#9a62a6" stroke-opacity=".6" stroke-width=".7"/><path d="M829,461.3H859" stroke="#9a62a6" stroke-opacity=".6" stroke-width=".7"/><path d="M829,463.6H859" stroke="#9a62a6" stroke-opacity=".6" stroke-width=".7"/><path d="M829,465.9H859" stroke="#9a62a6" stroke-opacity=".6" stroke-width=".7"/><path d="M829,468.2H859" stroke="#9a62a6" stroke-opacity=".6" stroke-width=".7"/><path d="M829,470.5H859" stroke="#9a62a6" stroke-opacity=".6" stroke-width=".7"/><path d="M829,472.8H859" stroke="#9a62a6" stroke-opacity=".6" stroke-width=".7"/><path d="M829,475.1H859" stroke="#9a62a6" stroke-opacity=".6" stroke-width=".7"/><path d="M829,480.0H859" stroke="#9a62a6" stroke-opacity=".6" stroke-width=".7"/><path d="M829,482.3H859" stroke="#9a62a6" stroke-opacity=".6" stroke-width=".7"/><path d="M829,484.6H859" stroke="#9a62a6" stroke-opacity=".6" stroke-width=".7"/><path d="M829,486.9H859" stroke="#9a62a6" stroke-opacity=".6" stroke-width=".7"/><path d="M829,489.2H859" stroke="#9a62a6" stroke-opacity=".6" stroke-width=".7"/><path d="M829,477.5H859" stroke="#d9a0dc" stroke-width="1.3"/><path d="M829,328.5H859" stroke="#2f5f8f" stroke-opacity=".6" stroke-width=".7"/><path d="M829,331.0H859" stroke="#2f5f8f" stroke-opacity=".6" stroke-width=".7"/><path d="M829,333.5H859" stroke="#2f5f8f" stroke-opacity=".6" stroke-width=".7"/><path d="M829,336.0H859" stroke="#2f5f8f" stroke-opacity=".6" stroke-width=".7"/><g font-size="6.6" font-weight="bold" fill="#111" stroke="#111" stroke-width=".15"><text x="242.3" y="351.9">0.19.0.19</text><text x="242.3" y="390.2">144.126.216.92</text><text x="242.3" y="443.4">19.0.19.0</text><text x="242.3" y="503.7">192.241.222.142</text><text x="242.3" y="540.3">241.0.37.10</text><text x="823.8" y="334.8" text-anchor="end">0.0.0.69</text><text x="823.8" y="379.8" text-anchor="end">0.0.1.0</text><text x="823.8" y="437.6" text-anchor="end">0.19.0.19</text><text x="823.8" y="477.1" text-anchor="end">0.69.0.0</text><text x="823.8" y="532.2" text-anchor="end">241.0.37.4</text><text x="823.8" y="568.4" text-anchor="end">4.0.22.186</text><text x="823.8" y="582.2" text-anchor="end">4.0.22.21</text></g></svg>
<div id="frame"></div>
</div></body></html>
